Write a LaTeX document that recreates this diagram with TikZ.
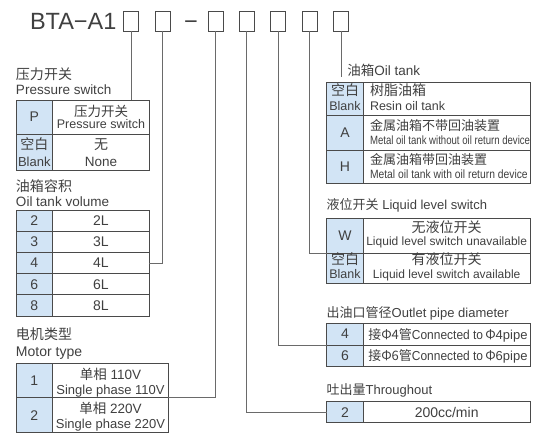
\documentclass[tikz,border=0pt]{standalone}
\usepackage{fontspec}
\setmainfont{Liberation Sans}
\newfontfamily\cjk{Noto Sans CJK SC}
\usepackage{graphicx}
\definecolor{txt}{HTML}{404040}
\definecolor{lin}{HTML}{4A4A4A}
\definecolor{conc}{HTML}{6A6A6A}
\definecolor{keyb}{HTML}{D2E4F5}
\newcommand\myfs[1]{\fontsize{#1}{#1}\selectfont}
\newcommand\cond[2]{\scalebox{#1}[1]{#2}}
\begin{document}
\begin{tikzpicture}[x=1pt,y=-1pt,
  tb/.style={draw=lin, line width=0.8pt, inner sep=0pt, outer sep=0pt, anchor=north west},
  kc/.style={tb, fill=keyb},
  vc/.style={tb, fill=white},
  ob/.style={draw=lin, line width=0.8pt, inner sep=0pt, outer sep=0pt, anchor=north, minimum width=15pt, minimum height=20pt},
  con/.style={draw=conc, line width=0.8pt},
  tx/.style={inner sep=0pt, outer sep=0pt, text=txt, anchor=base},
  txl/.style={tx, anchor=base west},
  txc/.style={inner sep=0pt, outer sep=0pt, text=txt, anchor=center}]
\useasboundingbox (0,0) rectangle (553,444);

% title
\node[txl, font=\myfs{23.5}] (title) at (30,30) {BTA−A1};
\node[ob] (b1) at (131,11) {};
\node[ob] (b2) at (162.5,11) {};
\node[tx, font=\myfs{23.5}] (dash) at (191,30) {−};
\node[ob] (b3) at (215.5,11) {};
\node[ob] (b4) at (246.7,11) {};
\node[ob] (b5) at (278,11) {};
\node[ob] (b6) at (309.5,11) {};
\node[ob] (b7) at (341,11) {};

% ---------- pressure switch
\node[txl, font=\myfs{14}\cjk] (lp1) at (16,79.5) {压力开关};
\node[txl, font=\myfs{13.5}] (lp2) at (16,94.5) {Pressure switch};
\node[kc, minimum width=36.7pt, minimum height=34pt] (pk1) at (16,100) {};
\node[vc, minimum width=96.6pt, minimum height=34pt] (pv1) at (52.7,100) {};
\node[kc, minimum width=36.7pt, minimum height=36pt] (pk2) at (16,134) {};
\node[vc, minimum width=96.6pt, minimum height=36pt] (pv2) at (52.7,134) {};
\node[txc, font=\myfs{14}] (tp) at (pk1.center) {P};
\node[tx, font=\myfs{13.5}\cjk] (tpa) at (101,116) {压力开关};
\node[tx, font=\myfs{12.5}] (tpb) at (101,128.5) {Pressure switch};
\node[tx, font=\myfs{14}\cjk] (tbk1) at (34.3,149.5) {空白};
\node[tx, font=\myfs{13}] (tbk2) at (34.3,166) {Blank};
\node[tx, font=\myfs{14}\cjk] (tno1) at (101,149.5) {无};
\node[tx, font=\myfs{13.5}] (tno2) at (101,166) {None};

% ---------- oil tank volume
\node[txl, font=\myfs{14}\cjk] (lv1) at (16,191.5) {油箱容积};
\node[txl, font=\myfs{13.5}] (lv2) at (16,206.7) {Oil tank volume};
\node[kc, minimum width=36.7pt, minimum height=21.2pt] (vk1) at (16,210) {};
\node[vc, minimum width=96.6pt, minimum height=21.2pt] (vv1) at (52.7,210) {};
\node[kc, minimum width=36.7pt, minimum height=21.2pt] (vk2) at (16,231.2) {};
\node[vc, minimum width=96.6pt, minimum height=21.2pt] (vv2) at (52.7,231.2) {};
\node[kc, minimum width=36.7pt, minimum height=21.2pt] (vk3) at (16,252.4) {};
\node[vc, minimum width=96.6pt, minimum height=21.2pt] (vv3) at (52.7,252.4) {};
\node[kc, minimum width=36.7pt, minimum height=21.2pt] (vk4) at (16,273.6) {};
\node[vc, minimum width=96.6pt, minimum height=21.2pt] (vv4) at (52.7,273.6) {};
\node[kc, minimum width=36.7pt, minimum height=21.2pt] (vk5) at (16,294.8) {};
\node[vc, minimum width=96.6pt, minimum height=21.2pt] (vv5) at (52.7,294.8) {};
\node[txc, font=\myfs{14}] at (vk1.center) (tv1) {2};
\node[txc, font=\myfs{14}] at (vv1.center) (tw1) {2L};
\node[txc, font=\myfs{14}] at (vk2.center) (tv2) {3};
\node[txc, font=\myfs{14}] at (vv2.center) (tw2) {3L};
\node[txc, font=\myfs{14}] at (vk3.center) (tv3) {4};
\node[txc, font=\myfs{14}] at (vv3.center) (tw3) {4L};
\node[txc, font=\myfs{14}] at (vk4.center) (tv4) {6};
\node[txc, font=\myfs{14}] at (vv4.center) (tw4) {6L};
\node[txc, font=\myfs{14}] at (vk5.center) (tv5) {8};
\node[txc, font=\myfs{14}] at (vv5.center) (tw5) {8L};

% ---------- motor type
\node[txl, font=\myfs{14}\cjk] (lm1) at (16,339.5) {电机类型};
\node[txl, font=\myfs{14}] (lm2) at (16,356.5) {Motor type};
\node[kc, minimum width=36.7pt, minimum height=34.4pt] (mk1) at (16,363.3) {};
\node[vc, minimum width=115.6pt, minimum height=34.4pt] (mv1) at (52.7,363.3) {};
\node[kc, minimum width=36.7pt, minimum height=35pt] (mk2) at (16,397.7) {};
\node[vc, minimum width=115.6pt, minimum height=35pt] (mv2) at (52.7,397.7) {};
\node[txc, font=\myfs{14}] at (mk1.center) (tm1) {1};
\node[txc, font=\myfs{14}] at (mk2.center) (tm2) {2};
\node[tx, font=\myfs{13.5}] (tm1a) at (110.5,379.5) {{\cjk 单相} 110V};
\node[tx, font=\myfs{13}] (tm1b) at (110.5,394) {Single phase 110V};
\node[tx, font=\myfs{13.5}] (tm2a) at (110.5,413.5) {{\cjk 单相} 220V};
\node[tx, font=\myfs{13}] (tm2b) at (110.5,428) {Single phase 220V};

% ---------- oil tank
\node[txl, font=\myfs{13.5}] (lo) at (347.3,75) {{\cjk 油箱}Oil tank};
\node[kc, minimum width=36.6pt, minimum height=33pt] (ok1) at (326.7,82) {};
\node[vc, minimum width=166.7pt, minimum height=33pt] (ov1) at (363.3,82) {};
\node[kc, minimum width=36.6pt, minimum height=35pt] (ok2) at (326.7,115) {};
\node[vc, minimum width=166.7pt, minimum height=35pt] (ov2) at (363.3,115) {};
\node[kc, minimum width=36.6pt, minimum height=33.3pt] (ok3) at (326.7,150) {};
\node[vc, minimum width=166.7pt, minimum height=33.3pt] (ov3) at (363.3,150) {};
\node[tx, font=\myfs{14}\cjk] (to1) at (345,95.5) {空白};
\node[tx, font=\myfs{12.5}] (to2) at (345,110) {Blank};
\node[txl, font=\myfs{14}\cjk] (to3) at (370,95.5) {树脂油箱};
\node[txl, font=\myfs{12.5}] (to4) at (370,110) {Resin oil tank};
\node[txc, font=\myfs{14}] at (ok2.center) (toa) {A};
\node[txl, font=\myfs{13}\cjk] (to5) at (370,130.5) {金属油箱不带回油装置};
\node[txl, font=\myfs{12}] (to6) at (370,144) {\cond{0.8}{Metal oil tank without oil return device}};
\node[txc, font=\myfs{14}] at (ok3.center) (toh) {H};
\node[txl, font=\myfs{13}\cjk] (to7) at (370,164) {金属油箱带回油装置};
\node[txl, font=\myfs{12}] (to8) at (370,178) {\cond{0.86}{Metal oil tank with oil return device}};

% ---------- liquid level switch
\node[txl, font=\myfs{13}] (ll) at (326.7,209.5) {{\cjk 液位开关} Liquid level switch};
\node[kc, minimum width=36.6pt, minimum height=35pt] (lk1) at (326.7,218) {};
\node[vc, minimum width=166.7pt, minimum height=35pt] (lv1) at (363.3,218) {};
\node[kc, minimum width=36.6pt, minimum height=30.3pt] (lk2) at (326.7,253) {};
\node[vc, minimum width=166.7pt, minimum height=30.3pt] (lv2) at (363.3,253) {};
\node[txc, font=\myfs{14}] at (lk1.center) (tlw) {W};
\node[tx, font=\myfs{14}\cjk] (tl1) at (446.7,232.5) {无液位开关};
\node[tx, font=\myfs{12}] (tl2) at (446.7,245.5) {Liquid level switch unavailable};
\node[tx, font=\myfs{14}\cjk] (tl3) at (345,264.5) {空白};
\node[tx, font=\myfs{12.5}] (tl4) at (345,278.5) {Blank};
\node[tx, font=\myfs{14}\cjk] (tl5) at (446.7,264.5) {有液位开关};
\node[tx, font=\myfs{12}] (tl6) at (446.7,278.5) {Liquid level switch available};

% ---------- outlet pipe diameter
\node[txl, font=\myfs{13}] (lop) at (326.7,317) {{\cjk 出油口管径}Outlet pipe diameter};
\node[kc, minimum width=36.6pt, minimum height=21.7pt] (pk4) at (326.7,323.3) {};
\node[vc, minimum width=166.7pt, minimum height=21.7pt] (pv4) at (363.3,323.3) {};
\node[kc, minimum width=36.6pt, minimum height=21pt] (pk6) at (326.7,345) {};
\node[vc, minimum width=166.7pt, minimum height=21pt] (pv6) at (363.3,345) {};
\node[txc, font=\myfs{14}] at (pk4.center) (tp4) {4};
\node[txc, font=\myfs{14}] at (pk6.center) (tp6) {6};
\node[txl, font=\myfs{13}] (tq4) at (368.3,339.5) {{\cjk 接Φ4管}\cond{0.92}{Connected to}\,{\cjk Φ}4pipe};
\node[txl, font=\myfs{13}] (tq6) at (368.3,360.5) {{\cjk 接Φ6管}\cond{0.92}{Connected to}\,{\cjk Φ}6pipe};

% ---------- throughout
\node[txl, font=\myfs{13}] (lt) at (326.7,394) {{\cjk 吐出量}Throughout};
\node[kc, minimum width=36.6pt, minimum height=21pt] (tk) at (326.7,401.7) {};
\node[vc, minimum width=166.7pt, minimum height=21pt] (tv) at (363.3,401.7) {};
\node[txc, font=\myfs{14}] at (tk.center) (tt2) {2};
\node[txc, font=\myfs{14}] at (tv.center) (tt3) {200cc/min};

% ---------- connectors
\coordinate (e7) at (341,77);
\draw[con] (b1.south) -- (b1.south |- pv1.north);
\draw[con] (b2.south) |- (vv3.east);
\draw[con] (b3.south) |- (mv1.south east);
\draw[con] (b4.south) |- (tk.west);
\draw[con] (b5.south) |- (pk4.south west);
\draw[con] (b6.south) |- (lk1.south west);
\draw[con] (b7.south) -- (e7);
\end{tikzpicture}
\end{document}
